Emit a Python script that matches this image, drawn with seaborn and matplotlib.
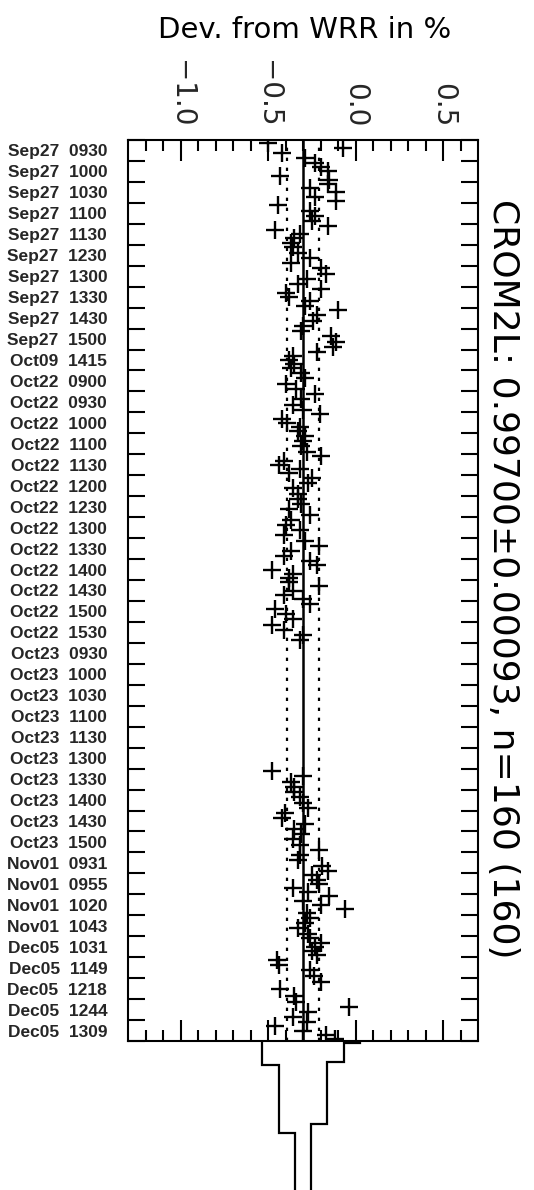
import numpy as np
import pandas as pd
import matplotlib
matplotlib.use("Agg")
import matplotlib.pyplot as plt
from matplotlib.ticker import FixedLocator, NullFormatter, FixedFormatter
import seaborn as sns

# ---------------- data ----------------
run_labels = [
    "Sep27  0930", "Sep27  1000", "Sep27  1030", "Sep27  1100", "Sep27  1130",
    "Sep27  1230", "Sep27  1300", "Sep27  1330", "Sep27  1430", "Sep27  1500",
    "Oct09  1415",
    "Oct22  0900", "Oct22  0930", "Oct22  1000", "Oct22  1100", "Oct22  1130",
    "Oct22  1200", "Oct22  1230", "Oct22  1300", "Oct22  1330", "Oct22  1400",
    "Oct22  1430", "Oct22  1500", "Oct22  1530",
    "Oct23  0930", "Oct23  1000", "Oct23  1030", "Oct23  1100", "Oct23  1130",
    "Oct23  1300", "Oct23  1330", "Oct23  1400", "Oct23  1430", "Oct23  1500",
    "Nov01  0931", "Nov01  0955", "Nov01  1020", "Nov01  1043",
    "Dec05  1031", "Dec05  1149", "Dec05  1218", "Dec05  1244", "Dec05  1309",
]

# deviation from WRR in % for every measurement of each run
run_values = [
    [-0.50, -0.07, -0.42, -0.29],
    [-0.23, -0.20, -0.16, -0.43, -0.15],
    [-0.16, -0.26, -0.11, -0.23, -0.11],
    [-0.445, -0.26, -0.23, -0.25],
    [-0.16, -0.46, -0.32, -0.35, -0.37],
    [-0.36, -0.33, -0.26, -0.37],
    [-0.20, -0.17, -0.28, -0.33],
    [-0.20, -0.40, -0.38, -0.26, -0.29],
    [-0.10, -0.22, -0.245, -0.30],
    [-0.31, -0.14, -0.11, -0.13],
    [-0.22, -0.36, -0.38, -0.35, -0.37],
    [-0.31, -0.29, -0.40, -0.34],
    [-0.23, -0.31, -0.36, -0.30],
    [-0.205, -0.42, -0.39, -0.32, -0.33],
    [-0.29, -0.30, -0.31, -0.28],
    [-0.195, -0.41, -0.44, -0.32, -0.38],
    [-0.25, -0.27, -0.36, -0.33],
    [-0.33, -0.31, -0.38, -0.26],
    [-0.37, -0.40, -0.32, -0.41],
    [-0.29, -0.21, -0.37, -0.41],
    [-0.26, -0.22, -0.48, -0.36, -0.38],
    [-0.38, -0.21, -0.36, -0.41, -0.30],
    [-0.26, -0.46, -0.40, -0.36],
    [-0.48, -0.41, -0.30, -0.32],
    [], [], [], [], [], [],
    [-0.48, -0.30, -0.37, -0.35],
    [-0.35, -0.32, -0.30, -0.27],
    [-0.405, -0.42, -0.29, -0.35],
    [-0.31, -0.36, -0.32, -0.21],
    [-0.32, -0.33, -0.19, -0.16],
    [-0.25, -0.22, -0.21, -0.36, -0.27],
    [-0.15, -0.30, -0.20, -0.06, -0.28],
    [-0.26, -0.29, -0.33, -0.27],
    [-0.26, -0.20, -0.23, -0.25, -0.22],
    [-0.45, -0.44, -0.26, -0.24],
    [-0.20, -0.43, -0.35],
    [-0.34, -0.04, -0.27, -0.36],
    [-0.28, -0.46, -0.30, -0.17, -0.12],
]

mean_dev = -0.300      # (0.99700 - 1) * 100
sigma_dev = 0.093      # 0.00093 * 100
hist_counts = [10, 39, 66, 35, 9, 1]
x_major_ticks = [-1.0, -0.5, 0.0, 0.5]
x_tick_labels = ["\u22121.0", "\u22120.5", "0.0", "0.5"]
title_text = "Dev. from WRR in %"
stats_text = "CROM2L: 0.99700\u00b10.00093, n=160 (160)"

# ---------------- build table ----------------
rows = []
for i, vals in enumerate(run_values):
    n = len(vals)
    for j, v in enumerate(vals):
        rows.append({"run": run_labels[i], "dev": v, "ypos": i + (j + 0.5) / n})
df = pd.DataFrame(rows)

sns.set_theme(style="white")
plt.rcParams["font.family"] = ["Liberation Sans", "DejaVu Sans"]
plt.rcParams["axes.linewidth"] = 1.5

W, H = 534, 1190
fig = plt.figure(figsize=(W / 100, H / 100), dpi=100)
L, R, T, B = 128, 478, 140, 1041
ax = fig.add_axes([L / W, (H - B) / H, (R - L) / W, (B - T) / H])
axh = fig.add_axes([L / W, 0, (R - L) / W, (H - B) / H])

xlim = (-1.3, 0.7)
nrun = len(run_labels)

sns.scatterplot(data=df, x="dev", y="ypos", marker="+", s=155, color="black",
                linewidth=1.7, ax=ax, legend=False, zorder=3)
ax.axvline(mean_dev, color="black", lw=1.8, zorder=2)
for s in (-1, 1):
    ax.axvline(mean_dev + s * sigma_dev, color="black", lw=1.6,
               ls=(0, (1.5, 3.0)), zorder=2)

ax.set_xlim(*xlim)
ax.set_ylim(nrun, 0)
ax.set_xlabel("")
ax.set_ylabel("")
for sp in ax.spines.values():
    sp.set_color("black")
    sp.set_linewidth(1.5)

# x ticks: top labels, minor every 0.1
ax.xaxis.set_major_locator(FixedLocator(x_major_ticks))
ax.xaxis.set_minor_locator(FixedLocator(np.round(np.arange(-1.2, 0.65, 0.1), 2)))
ax.xaxis.set_major_formatter(FixedFormatter(x_tick_labels))
ax.tick_params(axis="x", which="major", direction="in", length=15, width=1.5,
               top=True, bottom=True, labeltop=True, labelbottom=False,
               labelsize=20, pad=9, color="black")
ax.tick_params(axis="x", which="minor", direction="in", length=8, width=1.5,
               top=True, bottom=True, color="black")
for lab in ax.get_xticklabels():
    lab.set_rotation(-90)
    lab.set_family(["DejaVu Sans"])

# y ticks: boundaries as ticks, labels at centres
ax.yaxis.set_major_locator(FixedLocator(np.arange(0, nrun + 1)))
ax.yaxis.set_major_formatter(NullFormatter())
ax.yaxis.set_minor_locator(FixedLocator(np.arange(nrun) + 0.5))
ax.yaxis.set_minor_formatter(FixedFormatter(run_labels))
ax.tick_params(axis="y", which="major", direction="in", length=12, width=1.5,
               left=True, right=True, color="black")
ax.tick_params(axis="y", which="minor", length=0, left=True, right=False,
               labelleft=True, labelsize=12.5, pad=15)
for lab in ax.get_yticklabels(minor=True):
    lab.set_fontweight("bold")

# histogram below
edges = mean_dev + sigma_dev * (np.arange(len(hist_counts) + 1) - 2.5)
axh.stairs(hist_counts, edges, baseline=0, fill=False, color="black", lw=1.6)
axh.set_xlim(*xlim)
axh.set_ylim(149 / 2.36, 0)
axh.axis("off")

fig.text(305 / W, 1 - 30 / H, title_text, ha="center", va="center",
         fontsize=21, color="black", family=["DejaVu Sans"])
fig.text(503 / W, 1 - 579 / H, stats_text, rotation=-90, ha="center",
         va="center", fontsize=26, color="black", family=["DejaVu Sans"])

fig.savefig("out.png", dpi=100, facecolor="white")
